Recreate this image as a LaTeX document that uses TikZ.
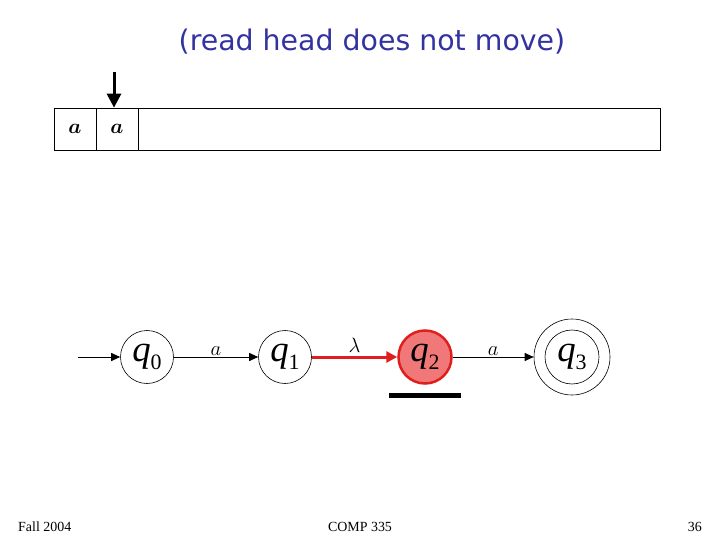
\documentclass[tikz,border=0pt]{standalone}
\usepackage{amsmath,amssymb}
\usepackage{bm}
\usepackage{fontspec}
\setmainfont{Liberation Serif}
\newfontfamily\titlefont{DejaVu Sans}
\usetikzlibrary{arrows.meta, positioning}
\definecolor{titleblue}{RGB}{51,51,160}
\definecolor{hotred}{RGB}{225,30,30}
\definecolor{pinkfill}{RGB}{240,120,120}
% state name: italic q with a big lowered index
\newcommand{\qname}[1]{\makebox[0pt]{\raisebox{-4bp}{\textit{q}\raisebox{-8bp}{\fontsize{22}{22}\selectfont #1}}}}

\begin{document}
\begin{tikzpicture}[
    x=1bp, y=-1bp,
    >={Triangle[length=9bp, width=8bp]},
    % Styles
    state/.style={circle, draw, line width=0.6bp, minimum size=53bp, inner sep=0pt, font=\fontsize{37}{37}\selectfont},
    ring/.style={circle, draw, line width=0.6bp, minimum size=76bp, inner sep=0pt},
    active/.style={state, draw=hotred, line width=2.5bp, fill=pinkfill},
    cell/.style={draw, line width=0.7bp, minimum height=42bp, minimum width=#1, inner sep=0pt, font=\fontsize{22}{22}\selectfont},
    trans/.style={->, line width=0.9bp},
    edgelabel/.style={above=1bp, inner sep=0pt, font=\fontsize{22}{22}\selectfont},
    footer/.style={font=\fontsize{14}{14}\selectfont, inner sep=0pt},
]
\useasboundingbox (0,0) rectangle (720,540);

% ── Title ──
\node[font=\titlefont\fontsize{28.5}{28.5}\selectfont, text=titleblue] (title) at (372,42) {(read head does not move)};

% ── Tape ──
\node[cell=42bp] (c1) at (75,129) {$\bm{a}$};
\node[cell=42bp, right=-0.7bp of c1] (c2) {$\bm{a}$};
\node[cell=522bp, right=-0.7bp of c2] (rest) {};

% read head
\coordinate (headtop) at (114,72);
\draw[-{Triangle[length=14bp, width=14bp]}, line width=3bp] (headtop) -- (headtop |- c2.north);

% ── Automaton ──
\node[state] (q0) at (147,357) {\qname{0}};
\node[state] (q1) at (285,357) {\qname{1}};
\node[active] (q2) at (425,357) {\qname{2}};
\node[state, minimum size=54bp] (q3) at (572,357) {\qname{3}};
\node[ring] (q3o) at (q3) {};

\coordinate (start) at (78,357);
\draw[trans] (start) -- (q0);
\draw[trans] (q0) -- node[edgelabel] {$a$} (q1);
\draw[->, draw=hotred, line width=3bp, >={Triangle[length=11bp, width=11bp]}, color=hotred] (q1) -- node[edgelabel, above=3bp, text=black] {$\lambda$} (q2);
\draw[trans] (q2) -- node[edgelabel] {$a$} (q3o);

% marker under q2
\node[fill=black, minimum width=72bp, minimum height=5bp, inner sep=0pt, below=8bp of q2] (bar) {};

% ── Footer ──
\node[footer, anchor=west] (season) at (18,527) {Fall 2004};
\node[footer] (course) at (360,527) {COMP 335};
\node[footer, anchor=east] (page) at (702,527) {36};

\end{tikzpicture}
\end{document}
